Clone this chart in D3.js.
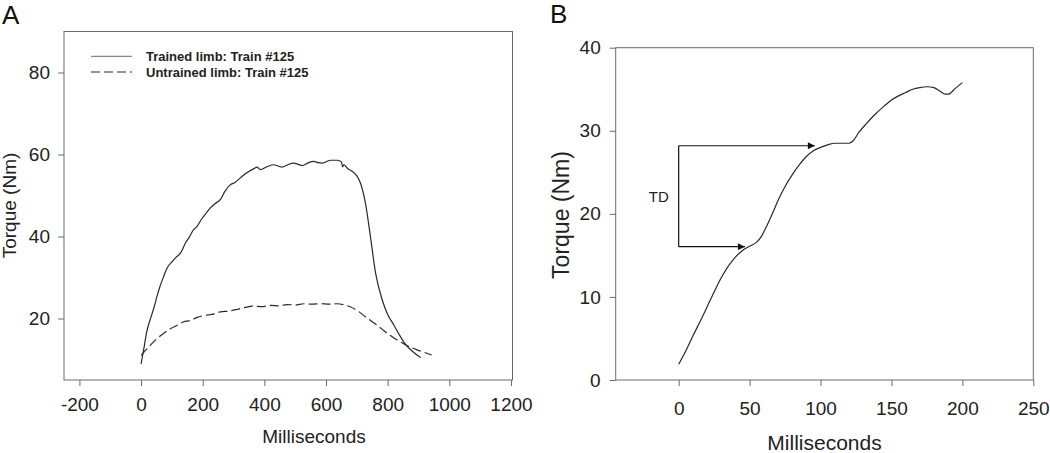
<!DOCTYPE html>
<html>
<head>
<meta charset="utf-8">
<script src="https://cdn.jsdelivr.net/npm/d3@7"></script>
<style>
  body { margin: 0; background: #fff; }
  svg { font-family: "Liberation Sans", Arial, sans-serif; }
</style>
</head>
<body>
<svg id="chart" width="1050" height="453"></svg>
<script>
// panel A: trained vs untrained limb torque, Train #125
var trainedMs = [0, 8, 18, 28, 35, 44, 51, 60, 72, 85, 100, 113, 127, 135, 143, 156, 170, 181, 196, 210, 224, 240, 257, 272, 289, 305, 322, 342, 365, 376, 387, 408, 430, 444, 457, 476, 495, 510, 523, 540, 560, 574, 588, 602, 615, 636, 650, 654, 658, 670, 685, 700, 712, 728, 745, 761, 783, 800, 821, 838, 853, 880, 907];
var trainedNm = [8.9, 12.2, 16.6, 19.4, 21.0, 23.2, 25.2, 27.5, 30.0, 32.4, 33.8, 34.9, 35.9, 36.9, 38.3, 39.8, 41.6, 42.4, 44.2, 45.6, 46.9, 48.0, 49.0, 51.0, 52.6, 53.2, 54.3, 55.5, 56.5, 56.9, 56.3, 57.0, 57.5, 57.2, 56.9, 57.5, 57.9, 57.6, 57.3, 57.9, 58.3, 58.0, 57.9, 58.3, 58.6, 58.6, 58.2, 57.0, 57.5, 56.6, 55.9, 54.8, 53.0, 48.1, 39.5, 31.0, 24.4, 21.0, 18.3, 16.0, 14.2, 12.0, 10.5];
var untrainedMs = [0, 29, 50, 72, 95, 116, 138, 159, 180, 202, 230, 257, 285, 311, 338, 365, 392, 420, 447, 474, 500, 528, 555, 582, 610, 636, 660, 680, 700, 723, 745, 767, 790, 810, 832, 853, 875, 897, 920, 943];
var untrainedNm = [11.0, 13.4, 15.0, 16.3, 17.5, 18.3, 19.2, 19.5, 20.2, 20.7, 21.0, 21.6, 21.8, 22.2, 22.7, 23.0, 22.9, 23.2, 23.1, 23.4, 23.3, 23.6, 23.5, 23.6, 23.5, 23.6, 23.3, 22.8, 22.0, 20.7, 19.5, 18.3, 16.9, 15.8, 14.7, 13.8, 13.0, 12.3, 11.7, 11.1];
var aXTicks = [-200, 0, 200, 400, 600, 800, 1000, 1200];
var aYTicks = [20, 40, 60, 80];
var legendLabels = ["Trained limb: Train #125", "Untrained limb: Train #125"];

// panel B: torque development over first 200 ms
var bMs = [0, 5, 10, 15, 20, 25, 30, 35, 40, 45, 50, 55, 58, 62, 66, 70, 75, 80, 85, 90, 95, 100, 105, 110, 115, 120, 123, 127, 132, 138, 145, 150, 155, 160, 165, 170, 175, 180, 184, 188, 190, 195, 200];
var bNm = [1.9, 3.5, 5.3, 7.0, 8.8, 10.6, 12.3, 13.7, 14.8, 15.6, 16.1, 16.6, 17.2, 18.5, 20.0, 21.6, 23.3, 24.7, 25.9, 26.9, 27.6, 28.0, 28.3, 28.5, 28.5, 28.5, 28.8, 29.8, 30.8, 31.9, 33.0, 33.7, 34.2, 34.6, 35.0, 35.2, 35.3, 35.2, 34.8, 34.4, 34.4, 35.1, 35.8];
var bXTicks = [0, 50, 100, 150, 200, 250];
var bYTicks = [0, 10, 20, 30, 40];
// TD bracket: from 0 ms up to two torque levels, arrows end at ms values
var tdNm = [28.2, 16.05];
var tdEndMs = [96, 46.7];

var svg = d3.select("#chart");
var ink = "#2a2a2a", frame = "#6a6a6a";

svg.append("defs").append("marker")
  .attr("id", "arrow")
  .attr("viewBox", "0 0 10 10")
  .attr("refX", 10).attr("refY", 5)
  .attr("markerWidth", 9).attr("markerHeight", 7)
  .attr("markerUnits", "userSpaceOnUse")
  .attr("orient", "auto")
  .append("path").attr("d", "M0,0L10,5L0,10Z").attr("fill", "#111");

function axes(g, x, y, xTicks, yTicks, xPad, yPad, fs) {
  var xr = x.range(), yr = y.range();
  var plain = d => String(d).replace("\u2212", "-");
  g.append("g")
    .attr("transform", `translate(0,${yr[0]})`)
    .call(d3.axisBottom(x).tickValues(xTicks).tickFormat(plain).tickSize(6).tickPadding(xPad).tickSizeOuter(0))
    .call(a => a.select(".domain").remove());
  g.append("g")
    .attr("transform", `translate(${xr[0]},0)`)
    .call(d3.axisLeft(y).tickValues(yTicks).tickFormat(plain).tickSize(6).tickPadding(yPad).tickSizeOuter(0))
    .call(a => a.select(".domain").remove());
  g.selectAll(".tick line").attr("stroke", frame);
  g.selectAll(".tick text").attr("fill", "#222").style("font-size", fs + "px")
    .style("font-family", "'Liberation Sans', Arial, sans-serif");
  g.append("rect")
    .attr("x", xr[0]).attr("y", yr[1])
    .attr("width", xr[1] - xr[0]).attr("height", yr[0] - yr[1])
    .attr("fill", "none").attr("stroke", frame).attr("stroke-width", 1);
}

// ---- panel A
var xA = d3.scaleLinear().domain([-250, 1205]).range([64, 512.5]);
var yA = d3.scaleLinear().domain([5, 90]).range([380, 31.5]);
var gA = svg.append("g");
axes(gA, xA, yA, aXTicks, aYTicks, 11.5, 8, 19);

var lineA = d3.line().x(d => xA(d[0])).y(d => yA(d[1])).curve(d3.curveMonotoneX);
gA.append("path")
  .attr("d", lineA(d3.zip(trainedMs, trainedNm)))
  .attr("fill", "none").attr("stroke", ink).attr("stroke-width", 1.2);
gA.append("path")
  .attr("d", lineA(d3.zip(untrainedMs, untrainedNm)))
  .attr("fill", "none").attr("stroke", ink).attr("stroke-width", 1.2)
  .attr("stroke-dasharray", "9,4");

var leg = gA.selectAll(".leg").data(legendLabels).join("g")
  .attr("class", "leg")
  .attr("transform", (d, i) => `translate(0,${56.4 + i * 15.6})`);
leg.append("line")
  .attr("x1", 91).attr("x2", 132).attr("y1", 0).attr("y2", 0)
  .attr("stroke", (d, i) => i ? ink : "#888").attr("stroke-width", 1.2)
  .attr("stroke-dasharray", (d, i) => i ? "9,4" : null);
leg.append("text")
  .attr("x", 146).attr("y", 4.6)
  .style("font-size", "13px").style("font-weight", "bold").attr("fill", "#222")
  .text(d => d);

gA.append("text").attr("x", 314).attr("y", 443).attr("text-anchor", "middle")
  .style("font-size", "19px").attr("fill", "#222").text("Milliseconds");
gA.append("text").attr("transform", "translate(16,205.5) rotate(-90)")
  .attr("text-anchor", "middle").style("font-size", "19px").attr("fill", "#222")
  .text("Torque (Nm)");
gA.append("text").attr("x", 2).attr("y", 23.5)
  .style("font-size", "26px").attr("fill", "#111").text("A");

// ---- panel B
var xB = d3.scaleLinear().domain([-44.4, 250]).range([615.7, 1033.3]);
var yB = d3.scaleLinear().domain([0, 40]).range([380, 47.7]);
var gB = svg.append("g");
axes(gB, xB, yB, bXTicks, bYTicks, 15.7, 9, 19);

var lineB = d3.line().x(d => xB(d[0])).y(d => yB(d[1])).curve(d3.curveMonotoneX);
gB.append("path")
  .attr("d", lineB(d3.zip(bMs, bNm)))
  .attr("fill", "none").attr("stroke", ink).attr("stroke-width", 1.2);

gB.append("line")
  .attr("x1", xB(0)).attr("x2", xB(0))
  .attr("y1", yB(tdNm[0])).attr("y2", yB(tdNm[1]))
  .attr("stroke", "#111").attr("stroke-width", 1.2);
gB.selectAll(".td").data(tdNm).join("line")
  .attr("class", "td")
  .attr("x1", xB(0)).attr("x2", (d, i) => xB(tdEndMs[i]))
  .attr("y1", d => yB(d)).attr("y2", d => yB(d))
  .attr("stroke", "#111").attr("stroke-width", 1.2)
  .attr("marker-end", "url(#arrow)");
gB.append("text").attr("x", 658.8).attr("y", 201.5).attr("text-anchor", "middle")
  .style("font-size", "15px").attr("fill", "#222").text("TD");

gB.append("text").attr("x", 824.5).attr("y", 450).attr("text-anchor", "middle")
  .style("font-size", "21px").attr("fill", "#222").text("Milliseconds");
gB.append("text").attr("transform", "translate(569,215) rotate(-90)")
  .attr("text-anchor", "middle").style("font-size", "23px").attr("fill", "#222")
  .text("Torque (Nm)");
gB.append("text").attr("x", 550).attr("y", 23.3)
  .style("font-size", "26px").attr("fill", "#111").text("B");
</script>
</body>
</html>
